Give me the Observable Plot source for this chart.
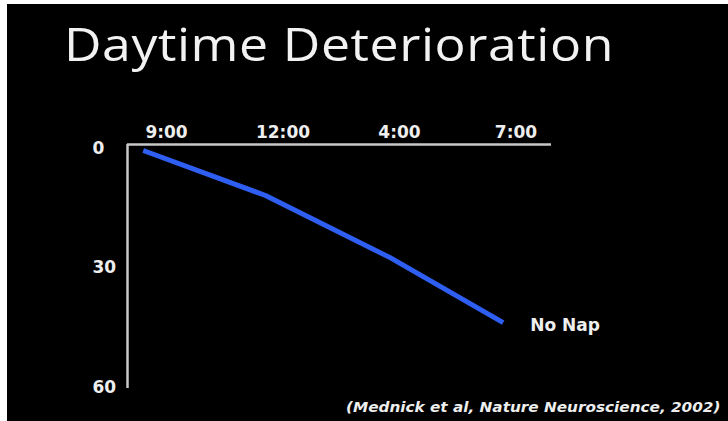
<!DOCTYPE html>
<html>
<head>
<meta charset="utf-8">
<script src="https://cdn.jsdelivr.net/npm/d3@7"></script>
<script src="https://cdn.jsdelivr.net/npm/@observablehq/plot@0.6"></script>
<style>
  html, body { margin: 0; padding: 0; background: #000; }
  #wrap { position: relative; width: 728px; height: 421px; overflow: hidden; background: #000; }
  #edgeL { position: absolute; left: 0; top: 0; width: 7px; height: 421px; background: #fff; }
  #edgeT { position: absolute; left: 0; top: 0; width: 728px; height: 4px; background: #fff; }
  #title { position: absolute; left: 64px; top: 14px; font-family: "Open Sans", sans-serif; font-weight: 400;
           font-size: 45px; color: #f2f2f2; white-space: nowrap; letter-spacing: 0.5px; line-height: 60px;
           transform: scaleX(1.15); transform-origin: 0 0; }
  #caption { position: absolute; left: 346px; top: 398px; font-family: "DejaVu Sans", sans-serif; font-style: italic;
             font-weight: bold; font-size: 13.5px; color: #eee; white-space: nowrap; line-height: 18px;
             transform: scaleX(1.13); transform-origin: 0 0; }
  #chart { position: absolute; left: 0; top: 0; }
</style>
</head>
<body>
<div id="wrap">
  <div id="chart"></div>
  <div id="edgeL"></div>
  <div id="edgeT"></div>
  <div id="title">Daytime Deterioration</div>
  <div id="caption">(Mednick et al, Nature Neuroscience, 2002)</div>
</div>
<script>
// Data
const timeLabels = ["9:00", "12:00", "4:00", "7:00"];
const tickSlots = [0, 1, 2, 3];
const lineSlots = [-0.2, 0.85, 1.92, 2.89];
const lineValues = [0.5, 11.8, 27.4, 43.7];
const yTicks = [0, 30, 60];
const seriesName = "No Nap";

const xDomain = [-0.335, 3.305];
const yDomain = [-1, 60.25];

const points = lineSlots.map((s, i) => ({slot: s, value: lineValues[i]}));
const last = points[points.length - 1];

const chart = Plot.plot({
  width: 728,
  height: 421,
  marginLeft: 127,
  marginRight: 177,
  marginTop: 144,
  marginBottom: 33,
  style: {background: "transparent", color: "#eee", fontFamily: "DejaVu Sans, sans-serif"},
  x: {domain: xDomain},
  y: {domain: yDomain, reverse: true},
  marks: [
    Plot.ruleY([yDomain[0]], {stroke: "#c8c8c8", strokeWidth: 2.5}),
    Plot.ruleX([xDomain[0]], {stroke: "#c8c8c8", strokeWidth: 2.5}),
    Plot.axisX({anchor: "top", ticks: tickSlots, tickFormat: (d, i) => timeLabels[i], tickSize: 0, tickPadding: 7,
      fontSize: 17, fontWeight: "bold", fill: "#eee", label: null}),
    Plot.axisY({anchor: "left", ticks: yTicks, tickSize: 0, tickPadding: 0, textAnchor: "start", dx: -35,
      fontSize: 17, fontWeight: "bold", fill: "#eee", label: null}),
    Plot.line(points, {x: "slot", y: "value", stroke: "#2f5ef2", strokeWidth: 5, strokeLinecap: "butt", strokeLinejoin: "round"}),
    Plot.text([last], {x: "slot", y: "value", text: () => seriesName, textAnchor: "start", dx: 27, dy: 3,
      fontSize: 17, fontWeight: "bold", fill: "#eee"})
  ]
});
document.getElementById("chart").appendChild(chart);
</script>
</body>
</html>
